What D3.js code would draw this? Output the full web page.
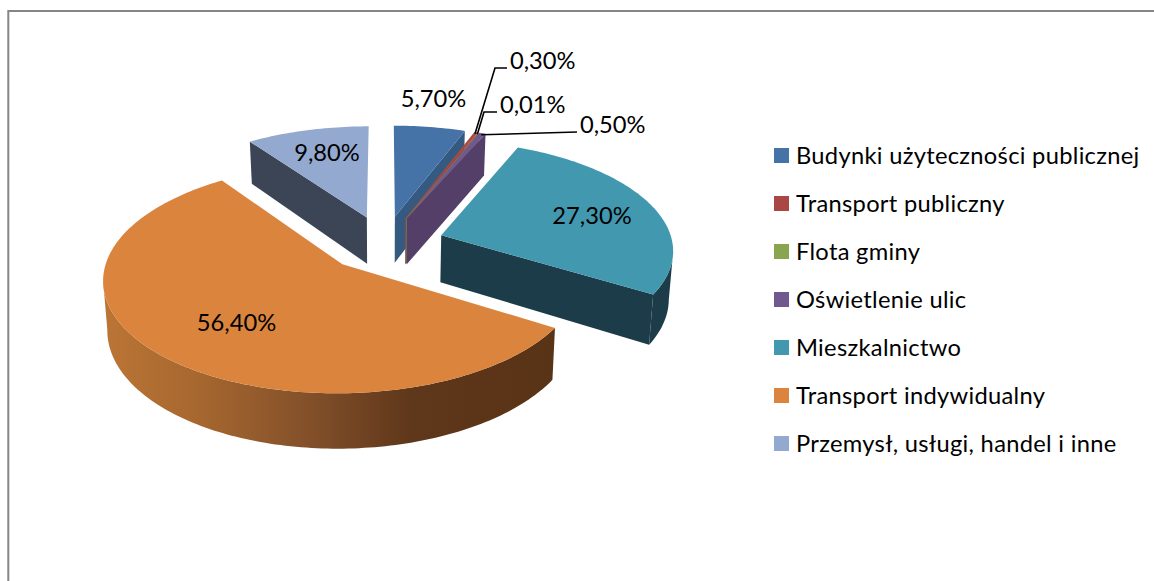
<!DOCTYPE html>
<html><head><meta charset="utf-8">
<script src="https://cdnjs.cloudflare.com/ajax/libs/d3/7.8.5/d3.min.js"></script>
<style>html,body{margin:0;padding:0;background:#fff}svg{display:block}text{font-family:Lato,"Open Sans",sans-serif;fill:#000}</style>
</head><body><svg id="c" width="1154" height="581"></svg>
<script>
const categories = ["Budynki użyteczności publicznej","Transport publiczny","Flota gminy","Oświetlenie ulic","Mieszkalnictwo","Transport indywidualny","Przemysł, usługi, handel i inne"];
const values = [5.7,0.3,0.01,0.5,27.3,56.4,9.8];
const topColors = ["#4572a7","#aa4643","#89a54e","#71588f","#4198af","#db843d","#93a9cf"];
const wallColors = ["#345a82","#8a4a3a","#7d7a50","#533f68","#1b3c48","#5a3316","#3b4556"];
const legendColors = topColors;

const W=1154,H=581;
const P={x0:384.5,y0:243.5,R:231.5,e:60,p:0.12,sR:108,d:47.5,shrink:0.985};
const svg=d3.select("#c");
svg.append("path").attr("d",`M1154 11H8.3V581`).attr("fill","none").attr("stroke","#868686").attr("stroke-width",2);

const defs=svg.append("defs");
const rimGrad=(id,x1,x2,stops)=>{const g=defs.append("linearGradient").attr("id",id).attr("gradientUnits","userSpaceOnUse").attr("x1",x1).attr("x2",x2).attr("y1",0).attr("y2",0);
 stops.forEach(s=>g.append("stop").attr("offset",s[0]).attr("stop-color",s[1]));};
rimGrad("g5",105,556,[[0,"#bb7535"],[0.22,"#a5662f"],[0.45,"#83502a"],[0.68,"#5f371a"],[1,"#593316"]]);

const arcs=d3.pie().sort(null).startAngle(0).endAngle(2*Math.PI).value(d=>d)(values);
function proj(X,V,drop){const w=1/(1-P.p*V/P.R);const k=drop?P.shrink:1;
 return [P.x0+X*w*k,P.y0+(P.sR/P.R)*V*w+(drop?P.d*w:0)];}
function slicePts(a){
 const mid=(a.startAngle+a.endAngle)/2;
 const ox=P.e*Math.sin(mid),oy=-P.e*Math.cos(mid);
 const pt=(ang,r,drop)=>proj(ox+r*Math.sin(ang),oy-r*Math.cos(ang),drop);
 const n=Math.max(2,Math.ceil((a.endAngle-a.startAngle)/0.02));
 const angs=d3.range(n+1).map(i=>a.startAngle+(a.endAngle-a.startAngle)*i/n);
 return {pt,angs,mid};
}
const line=d3.line().curve(d3.curveLinearClosed);
const order=[6,0,1,2,3,4,5];
order.forEach(i=>{
 const a=arcs[i],{pt,angs}=slicePts(a);
 const g=svg.append("g");
 const wall=ang=>[pt(ang,0,false),pt(ang,P.R,false),pt(ang,P.R,true),pt(ang,0,true)];
 if(Math.sin(a.startAngle)<-1e-6) g.append("path").attr("d",line(wall(a.startAngle))).attr("fill",wallColors[i]);
 if(Math.sin(a.endAngle)>1e-6) g.append("path").attr("d",line(wall(a.endAngle))).attr("fill",wallColors[i]);
 const vis=[];
 for(let k=0;k<angs.length-1;k++){const p=pt(angs[k],P.R,false),q=pt(angs[k+1],P.R,false);if(q[0]<p[0]){vis.push(angs[k]);vis.push(angs[k+1]);}}
 if(vis.length){
  const rim=vis.map(t=>pt(t,P.R,false)).concat(vis.slice().reverse().map(t=>pt(t,P.R,true)));
  g.append("path").attr("d",line(rim)).attr("fill",i==5?"url(#g5)":wallColors[i]);
 }
 const top=[pt(0,0,false)].concat(angs.map(t=>pt(t,P.R,false)));
 g.append("path").attr("d",line(top)).attr("fill",topColors[i]);
});

const rimMid=i=>{const s=slicePts(arcs[i]);return s.pt(s.mid,P.R*0.98,false);};
const leaderBends={1:[[495,68],[507,68]],2:[[484,112],[497,112]],3:[[577,132]]};
Object.keys(leaderBends).forEach(i=>{
 svg.append("path").attr("d",d3.line()([rimMid(+i)].concat(leaderBends[i]))).attr("fill","none").attr("stroke","#000").attr("stroke-width",1.6);
});

const fmt=v=>d3.format(".2f")(v).replace(".",",")+"%";
const labelAnchors=[[433.5,98,"middle"],[510,60,"start"],[500,104,"start"],[580,124,"start"],[592,215,"middle"],[236.5,322,"middle"],[327,152,"middle"]];
values.forEach((v,i)=>{
 const l=labelAnchors[i];
 svg.append("text").attr("x",l[0]).attr("y",l[1]).attr("text-anchor",l[2]).attr("dy","0.36em").attr("font-size",23.7).text(fmt(v));
});

const ly=d3.scalePoint().domain(categories).range([155.5,443.5]);
const leg=svg.selectAll("g.l").data(categories).join("g").attr("class","l").attr("transform",d=>`translate(774,${ly(d)})`);
leg.append("rect").attr("x",0).attr("y",-7.5).attr("width",15).attr("height",15).attr("fill",(d,i)=>legendColors[i]);
leg.append("text").attr("x",22).attr("dy","0.36em").attr("font-size",23.7).attr("letter-spacing",0.3).text(d=>d);
</script></body></html>
